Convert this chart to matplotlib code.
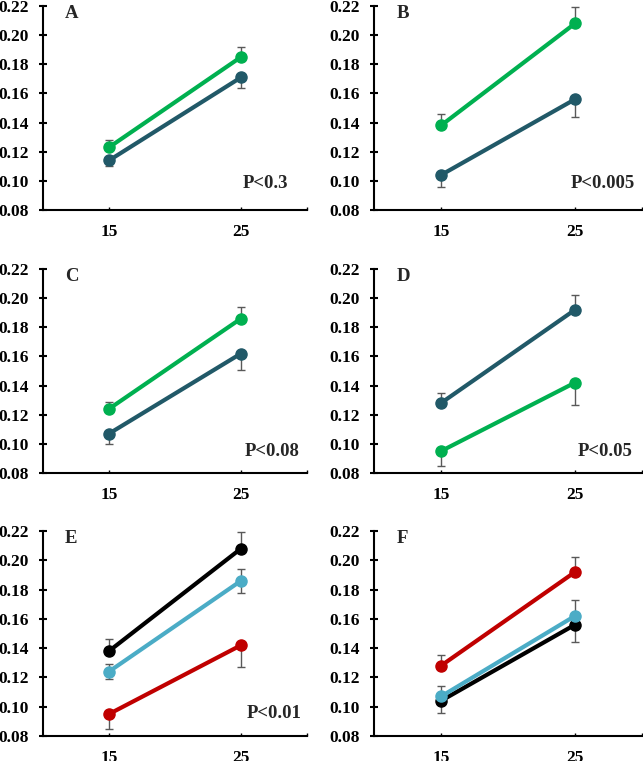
import numpy as np
import matplotlib
matplotlib.use("Agg")
import matplotlib.pyplot as plt

plt.rcParams['font.family'] = ['Liberation Serif', 'DejaVu Serif']
plt.rcParams['font.weight'] = 'bold'

# ------ datos ------
x = [15, 25]

a_green = [0.123, 0.185]; a_green_err = [0.005, 0.007]
a_dark = [0.114, 0.171];  a_dark_err = [0.004, 0.007]
b_green = [0.138, 0.208]; b_green_err = [0.008, 0.011]
b_dark = [0.104, 0.156];  b_dark_err = [0.008, 0.012]
c_green = [0.124, 0.186]; c_green_err = [0.005, 0.008]
c_dark = [0.107, 0.162];  c_dark_err = [0.007, 0.011]
d_dark = [0.128, 0.192];  d_dark_err = [0.007, 0.010]
d_green = [0.095, 0.142]; d_green_err = [0.010, 0.015]

letters = ['A', 'B', 'C', 'D', 'E', 'F']
pvals = ['P<0.3', 'P<0.005', 'P<0.08', 'P<0.05', 'P<0.01', '']
yticks = [0.08, 0.10, 0.12, 0.14, 0.16, 0.18, 0.20, 0.22]

GREEN = '#00B050'
DARK = '#215968'
CYAN = '#4BACC6'
RED = '#C00000'
BLACK = '#000000'

# (valores, errores, color, lado de la barra: 'up', 'down', 'both')
panels = [
    [(a_green, a_green_err, GREEN, 'up'), (a_dark, a_dark_err, DARK, 'down')],
    [(b_green, b_green_err, GREEN, 'up'), (b_dark, b_dark_err, DARK, 'down')],
    [(c_green, c_green_err, GREEN, 'up'), (c_dark, c_dark_err, DARK, 'down')],
    [(d_dark, d_dark_err, DARK, 'up'), (d_green, d_green_err, GREEN, 'down')],
    [(b_green, b_green_err, BLACK, 'up'), (c_green, c_green_err, CYAN, 'both'),
     (d_green, d_green_err, RED, 'down')],
    [(d_dark, d_dark_err, RED, 'up'), (b_dark, b_dark_err, BLACK, 'down'),
     (c_dark, c_dark_err, CYAN, 'up')],
]

W, H = 643, 761
fig = plt.figure(figsize=(W / 100, H / 100), dpi=100)

cols = [(43, 264), (374, 268)]
rows = [(6, 210), (269, 473), (531, 736)]
p_pos = [(0.928, 0.132), (0.974, 0.132), (0.973, 0.103),
         (0.963, 0.103), (0.98, 0.112), (0.98, 0.11)]

for i in range(6):
    r, c = divmod(i, 2)
    left, width = cols[c]
    top, bottom = rows[r]
    ax = fig.add_axes([left / W, 1 - bottom / H, width / W, (bottom - top) / H])

    for vals, err, col, side in panels[i]:
        err = np.array(err)
        zero = np.zeros_like(err)
        if side == 'up':
            yerr = [zero, err]
        elif side == 'down':
            yerr = [err, zero]
        else:
            yerr = [err, err]
        ax.errorbar(x, vals, yerr=yerr, fmt='none', ecolor='#595959',
                    elinewidth=1, capsize=3, capthick=1, zorder=2)
        ax.plot(x, vals, color=col, lw=3, marker='o', ms=8, zorder=3)

    ax.set_xlim(10, 30)
    ax.set_ylim(0.08, 0.22)
    ax.set_yticks(yticks)
    ax.set_yticklabels(['%.2f' % t for t in yticks])
    ax.set_xticks(x)
    ax.set_xticks([30], minor=True)
    for s in ['top', 'right']:
        ax.spines[s].set_visible(False)
    for s in ['left', 'bottom']:
        ax.spines[s].set_linewidth(1.5)
    ax.tick_params(axis='y', direction='inout', length=6, width=1.5,
                   labelsize=12.5, pad=7)
    ax.tick_params(axis='x', which='both', direction='in', length=2, width=1,
                   labelsize=12.5, pad=10)

    ax.text(0.083, 0.965, letters[i], transform=ax.transAxes, fontsize=13.5,
            fontweight='bold', ha='left', va='center', color='#262626')
    if pvals[i]:
        ax.text(p_pos[i][0], p_pos[i][1], pvals[i], transform=ax.transAxes,
                fontsize=13.5, fontweight='bold', ha='right', va='center',
                color='#262626')

plt.savefig('out.png', dpi=100)
